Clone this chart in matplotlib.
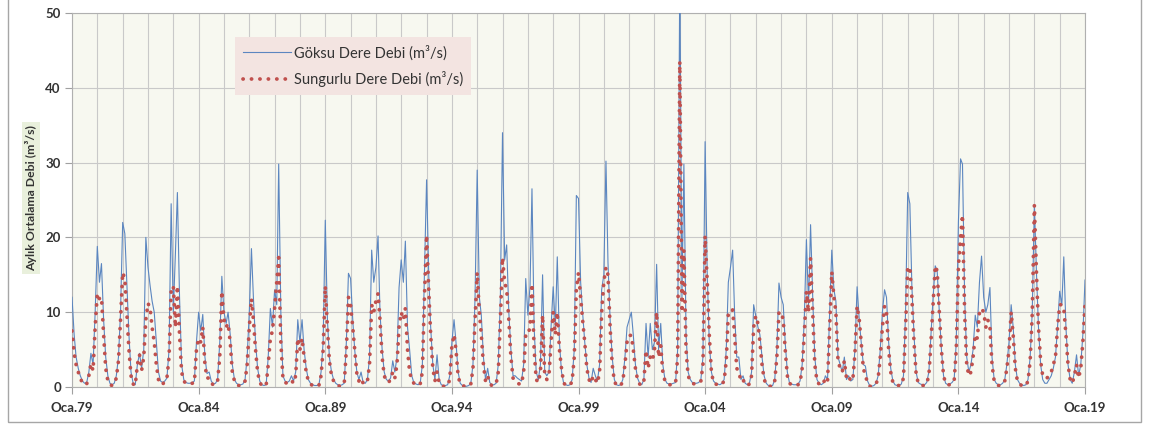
import matplotlib
matplotlib.use('Agg')
import matplotlib.pyplot as plt
import matplotlib.dates as mdates
from matplotlib.lines import Line2D
from matplotlib.patches import Rectangle
import pandas as pd

start_month = '1979-01-01'

# Monthly mean discharge (m3/s), one row per year (Jan..Dec), last value = Jan 2019
goksu = [
    12, 7, 4, 2.5, 1.5, 0.8, 0.5, 0.6, 2, 4.5, 3, 10,            # 1979
    18.8, 14, 16.5, 9, 4, 1.5, 0.5, 0.3, 0.5, 1.5, 4, 10,        # 1980
    22, 20.5, 14, 7, 2, 0.5, 0.3, 3, 4.5, 2.5, 5, 20,            # 1981
    16, 13.5, 11.5, 10, 6, 2, 0.8, 0.6, 0.8, 1.2, 5, 24.5,       # 1982
    10, 18, 26, 12, 3, 1, 0.6, 0.5, 0.5, 0.6, 0.8, 6,            # 1983
    10, 7.5, 9.7, 4, 1.8, 2, 0.8, 0.4, 0.5, 1, 6, 14.8,          # 1984
    10, 8.5, 10, 7, 3, 1, 0.5, 0.3, 0.3, 0.4, 1, 4,              # 1985
    10, 18.5, 12, 6, 2.5, 0.8, 0.3, 0.2, 0.3, 4, 10.5, 8,        # 1986
    13, 11, 29.8, 10, 1.5, 0.8, 0.6, 0.8, 1.5, 0.8, 2, 9,        # 1987
    6, 9, 5, 2.5, 1, 0.5, 0.3, 0.2, 0.2, 0.3, 2, 6,              # 1988
    22.3, 9, 4, 2, 1, 0.5, 0.3, 0.2, 0.3, 0.5, 6, 15.2,          # 1989
    14.5, 9, 5, 2, 1, 2, 0.6, 0.5, 1, 4, 18.3, 14,               # 1990
    16, 20.2, 10, 5, 2, 1, 0.8, 1.2, 3.5, 2, 4, 13.3,            # 1991
    17, 14, 19.5, 8, 5, 1.5, 0.6, 0.4, 0.3, 0.5, 3, 15,          # 1992
    27.7, 15, 8, 3, 1, 4.3, 1, 0.3, 0.2, 0.2, 0.3, 1.5,          # 1993
    6, 9, 6, 2, 0.5, 0.2, 0.1, 0.1, 0.2, 0.5, 3, 12,             # 1994
    29, 12, 9.6, 4, 1, 2.5, 0.6, 0.3, 0.3, 0.5, 3, 12,           # 1995
    34, 17, 19, 10, 5, 1.5, 1.5, 1.2, 1, 0.8, 3, 14.5,           # 1996
    9.6, 13.5, 26.5, 8, 2, 1, 3, 15, 2, 1.5, 2, 8,               # 1997
    13.4, 8, 17.4, 6, 2, 0.5, 0.3, 0.2, 0.3, 1, 5, 25.6,         # 1998
    25.2, 14, 10, 6, 3, 1.2, 0.6, 2.5, 1.5, 0.8, 3, 13,          # 1999
    15, 30.2, 16.7, 9, 4, 1, 0.3, 0.2, 0.3, 1, 4, 8,             # 2000
    9, 10, 7, 3, 1.2, 0.5, 0.3, 1, 8.5, 4, 8.5, 5,               # 2001
    6, 16.4, 5, 8.5, 3, 1, 0.5, 0.4, 0.4, 0.5, 0.6, 5,           # 2002
    56, 12, 29.8, 7, 2, 1, 0.6, 0.5, 0.5, 0.6, 1, 4,             # 2003
    32.8, 15, 6, 2, 0.8, 0.5, 0.4, 0.3, 0.5, 1, 5, 14,           # 2004
    16, 18.3, 10, 4, 4, 1, 1.5, 0.5, 0.3, 0.5, 2, 11,            # 2005
    9.5, 8, 7, 4, 1.5, 0.5, 0.2, 0.1, 0.2, 1, 5, 13.9,           # 2006
    12, 11, 6, 2, 0.6, 0.4, 0.3, 0.3, 0.4, 0.8, 3, 9,            # 2007
    19.7, 11, 21.7, 12, 4, 1, 0.5, 0.3, 0.5, 1.5, 1, 10,         # 2008
    18.3, 13, 11.5, 4, 3, 2, 4, 1, 1.5, 0.8, 1, 5,               # 2009
    13.4, 9, 6, 3, 2.8, 0.8, 0.2, 0.1, 0.2, 0.5, 1.5, 5,         # 2010
    10, 13, 12, 6, 2.5, 0.8, 0.3, 0.2, 0.2, 0.4, 1.5, 10,        # 2011
    26, 24.5, 13.5, 7, 2, 0.6, 0.4, 0.3, 0.3, 0.6, 2, 7,         # 2012
    12, 16.2, 15.5, 10, 5, 1.5, 0.5, 0.3, 0.4, 0.6, 1, 6,        # 2013
    22, 30.5, 29.8, 12, 4, 2, 3, 5, 9.6, 8, 14, 17.5,            # 2014
    12, 10, 11, 13.3, 4, 1, 0.5, 0.3, 0.3, 0.5, 1, 3,            # 2015
    6, 11, 8, 3, 1, 0.5, 0.3, 0.2, 0.3, 1, 4, 10,                # 2016
    24.4, 15, 8, 3, 1, 0.5, 0.5, 1, 1.5, 2.5, 4, 8,              # 2017
    12.8, 11, 17.4, 8, 3, 1, 0.5, 2, 4.3, 1.5, 3, 7,             # 2018
    14.3,                                                         # 2019
]

sungurlu = [
    7.5, 4.5, 3, 2, 1.2, 0.5, 0.3, 0.4, 1.5, 3.1, 2.2, 8,        # 1979
    12.5, 11.8, 12, 7, 2.5, 0.8, 0.3, 0.2, 0.4, 1.2, 3.5, 9,     # 1980
    15.3, 14.5, 10, 5, 1.5, 0.4, 0.2, 3, 4.3, 2.2, 4, 9,         # 1981
    11.2, 10.5, 8, 6, 3, 1, 0.5, 0.3, 1, 1.2, 4, 13,             # 1982
    13.5, 8, 13.5, 7, 2, 0.8, 0.5, 0.4, 0.4, 0.5, 0.6, 5,        # 1983
    6.5, 6, 8, 3, 1.2, 1.2, 0.5, 0.3, 0.3, 0.8, 4, 12.8,         # 1984
    9, 8, 8.5, 6, 2, 0.8, 0.3, 0.2, 0.2, 0.3, 0.8, 3,            # 1985
    8, 11.8, 9, 5, 2, 0.6, 0.2, 0.1, 0.2, 3, 6.5, 7.5,           # 1986
    10.5, 14, 17.3, 6, 1.2, 0.6, 0.5, 0.6, 0.9, 0.5, 1.5, 6.5,   # 1987
    5, 6.5, 4, 2, 0.8, 0.4, 0.2, 0.1, 0.1, 0.2, 1.5, 5,          # 1988
    13.5, 8, 3.5, 1.5, 0.8, 0.4, 0.2, 0.1, 0.2, 0.4, 5, 12,      # 1989
    11, 8, 5, 1.8, 0.8, 1.2, 0.5, 0.4, 0.8, 3, 11, 10,           # 1990
    11.5, 12.5, 9, 4, 1.5, 0.8, 0.6, 1, 2, 1.2, 3, 8,            # 1991
    10, 9, 10.5, 5, 2, 1, 0.5, 0.3, 0.2, 0.4, 2, 12,             # 1992
    20.3, 13, 7, 2.5, 0.8, 2, 0.6, 0.2, 0.1, 0.1, 0.2, 1,        # 1993
    5.5, 7, 5, 1.5, 0.4, 0.2, 0.1, 0.1, 0.1, 0.4, 2.5, 9,        # 1994
    15.3, 10, 7, 3, 0.8, 1.5, 0.4, 0.2, 0.2, 0.4, 2, 9,          # 1995
    17.3, 14, 13, 9, 4, 1.2, 0.8, 0.5, 0.4, 0.4, 2, 7,           # 1996
    7, 8, 13.8, 5, 1, 0.6, 2, 9.6, 1.5, 1, 1.5, 6,               # 1997
    10, 7, 10, 5, 2.5, 0.5, 0.3, 0.2, 0.2, 0.8, 4, 13,           # 1998
    15.3, 12, 9, 6, 2.5, 1, 0.5, 1.5, 1, 0.5, 2, 10,             # 1999
    14, 16, 15, 8, 3, 0.8, 0.2, 0.2, 0.2, 0.8, 3, 6,             # 2000
    6.9, 6.9, 5, 2.5, 1, 0.4, 0.2, 0.8, 4.9, 2.5, 4, 3.5,        # 2001
    5, 10, 4, 5.5, 2, 0.8, 0.4, 0.3, 0.3, 0.4, 0.5, 4,           # 2002
    43.5, 10, 18.3, 5, 1.5, 0.8, 0.5, 0.4, 0.4, 0.5, 0.8, 3,     # 2003
    20.2, 14, 7, 2, 0.6, 0.4, 0.3, 0.2, 0.4, 0.8, 3.5, 10,       # 2004
    10.3, 10.3, 7, 2.5, 2, 0.8, 1, 0.3, 0.2, 0.4, 1.5, 8,        # 2005
    9.5, 8.5, 6, 3, 1, 0.4, 0.1, 0.1, 0.1, 0.8, 4, 10,           # 2006
    10, 9, 5, 1.5, 0.5, 0.3, 0.2, 0.2, 0.3, 0.6, 2.5, 7,         # 2007
    12.8, 10, 17.2, 10, 3, 0.8, 0.4, 0.2, 0.5, 1.2, 0.8, 8,      # 2008
    15.4, 12, 10, 3.5, 2.5, 2, 3.5, 1.2, 1.5, 0.8, 1, 4.5,       # 2009
    10.8, 9, 6, 2.5, 1.5, 0.6, 0.1, 0.1, 0.2, 0.4, 1.2, 4,       # 2010
    8, 10.8, 10, 5, 2, 0.6, 0.3, 0.2, 0.2, 0.3, 1.2, 8,          # 2011
    16, 16, 12, 6, 1.8, 0.5, 0.3, 0.2, 0.2, 0.5, 1.5, 6,         # 2012
    11, 16.2, 15.5, 10, 5, 1.5, 0.5, 0.3, 0.3, 0.5, 0.8, 5,      # 2013
    16, 20, 23, 10, 3, 1.5, 2, 4, 7, 6.5, 10, 10.5,              # 2014
    10, 8, 9, 8, 3, 0.8, 0.4, 0.2, 0.2, 0.4, 0.8, 2.5,           # 2015
    5, 10, 7, 2.5, 0.8, 0.4, 0.2, 0.1, 0.2, 0.8, 3.5, 9.8,       # 2016
    24.3, 15, 8, 3.5, 1.5, 1.2, 1.2, 1.5, 2, 3, 4, 8,            # 2017
    11, 11, 10.5, 7, 3, 1, 0.5, 1.5, 3, 1.2, 2.5, 6,             # 2018
    11,                                                           # 2019
]

x_tick_labels = ['Oca.79', 'Oca.84', 'Oca.89', 'Oca.94', 'Oca.99',
                 'Oca.04', 'Oca.09', 'Oca.14', 'Oca.19']
series_labels = ['Göksu Dere Debi (m³/s)', 'Sungurlu Dere Debi (m³/s)']
y_label = 'Aylık Ortalama Debi (m³/s)'
y_ticks = [0, 10, 20, 30, 40, 50]

BLUE = '#5b86c0'
RED = '#c0504d'
GRID = '#c9c9c9'
DOTS = (0, (0.05, 2.2))
plt.rcParams['font.family'] = ['Lato', 'DejaVu Sans']

dates = pd.date_range(start_month, periods=len(goksu), freq='MS')
year_starts = dates[::12]
label_dates = dates[::60]

W, H = 1149, 430
fig = plt.figure(figsize=(W / 100, H / 100), dpi=100)
fig.patch.set_facecolor('white')

# outer chart frame
fig.add_artist(Rectangle((8 / W, 8 / H), (1141 - 8) / W, 1.2, transform=fig.transFigure,
                         fill=False, edgecolor='#a6a6a6', lw=1.0))

ax = fig.add_axes([72 / W, 43 / H, 1013 / W, 374 / H])
ax.set_facecolor('#f7f8f0')

ax.plot(dates, goksu, color=BLUE, lw=0.8, zorder=3)
ax.plot(dates, sungurlu, color=RED, lw=2.7, linestyle=DOTS,
        dash_capstyle='round', zorder=4)

ax.set_xlim(dates[0], dates[-1])
ax.set_ylim(0, 50)
ax.set_yticks(y_ticks)
ax.set_xticks(label_dates)
ax.set_xticklabels(x_tick_labels)
ax.set_xticks(year_starts, minor=True)

ax.grid(which='both', axis='x', color=GRID, lw=0.8, zorder=1)
ax.grid(which='major', axis='y', color=GRID, lw=0.8, zorder=1)
ax.set_axisbelow(True)
ax.tick_params(axis='x', which='minor', length=0)
ax.tick_params(axis='x', which='major', length=5, color='#a0a0a0', pad=6,
               labelsize=9.5, labelcolor='#333333')
ax.tick_params(axis='y', length=5, color='#a0a0a0', pad=3, labelsize=9.5, labelcolor='#333333')
for lab in ax.get_xticklabels() + ax.get_yticklabels():
    lab.set_fontweight('bold')
for s in ax.spines.values():
    s.set_color('#b0b0b0')
    s.set_linewidth(0.8)

fig.text(31 / W, 1 - 198 / H, y_label, rotation=90, ha='center', va='center',
         fontsize=8.8, fontweight='bold', color='#333333',
         bbox=dict(facecolor='#e9f0dc', edgecolor='none', pad=2))

handles = [Line2D([], [], color=BLUE, lw=0.8),
           Line2D([], [], color=RED, lw=2.7, linestyle=DOTS, dash_capstyle='round')]
leg = ax.legend(handles, series_labels, loc='upper left',
                bbox_to_anchor=((235 - 72) / 1013, (387 - 37) / 374),
                frameon=True, fancybox=False, facecolor='#f3e4e1', edgecolor='none',
                framealpha=1, fontsize=10.5, handlelength=3.3, borderpad=0.55,
                labelspacing=0.75, handletextpad=0.2, borderaxespad=0)
leg.get_frame().set_boxstyle('square', pad=0)
for t in leg.get_texts():
    t.set_color('#333333')

fig.savefig('out.png', dpi=100)
